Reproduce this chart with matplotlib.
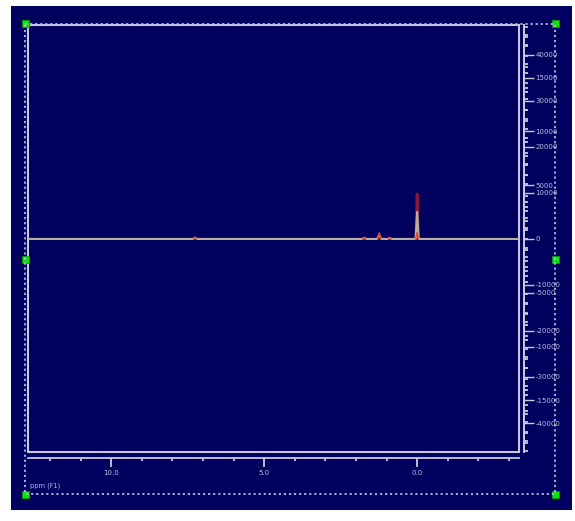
import numpy as np
import matplotlib
matplotlib.use('Agg')
import matplotlib.pyplot as plt
from matplotlib.patches import Rectangle
from matplotlib.ticker import MultipleLocator, FixedLocator

plt.rcParams['axes.unicode_minus'] = False

# spectrum data (ppm, intensity)
base_ppm = [12.72, 7.32, 7.26, 7.20, 1.80, 1.73, 1.66, 1.31, 1.24, 1.17,
            0.96, 0.90, 0.84, 0.05, 0.0, -0.05, -3.33]
base_int = [0, 0, 300, 0, 0, 250, 0, 0, 900, 0, 0, 250, 0, 0, 5900, 0, 0]

red_ppm = [0.04, 0.0, -0.04]
red_int = [0, 9800, 0]

# small coloured peaks, nan separates the pieces
orange_ppm = [7.30, 7.26, 7.22, np.nan, 1.77, 1.73, 1.69, np.nan, 1.29, 1.24, 1.19,
              np.nan, 0.94, 0.90, 0.86, np.nan, 0.04, 0.0, -0.04]
orange_int = [0, 300, 0, np.nan, 0, 250, 0, np.nan, 0, 1300, 0,
              np.nan, 0, 250, 0, np.nan, 0, 1400, 0]

x_ticks = [10.0, 5.0, 0.0]
x_labels = ['10.0', '5.0', '0.0']
y_ticks_a = [-40000, -30000, -20000, -10000, 0, 10000, 20000, 30000, 40000]
y_ticks_b = [-15000, -10000, -5000, 5000, 10000, 15000]

navy = '#00005f'
light = '#c8c8dc'
label_col = '#bcbce0'

W, H = 575, 521
fig = plt.figure(figsize=(W / 100, H / 100), dpi=100, facecolor='white')

# background / handles layer in pixel coords
bg = fig.add_axes([0, 0, 1, 1], zorder=0)
bg.set_xlim(0, W)
bg.set_ylim(H, 0)
bg.axis('off')
bg.add_patch(Rectangle((11, 6), 561, 504, facecolor=navy, edgecolor='none'))

ax = fig.add_axes([28 / W, 1 - 452 / H, 491 / W, 427 / H], zorder=1)
ax.set_facecolor(navy)
ax.set_xlim(12.72, -3.33)
ax.set_ylim(-46300, 46500)

# second overlapping intensity scale
ax2 = ax.twinx()
ax2.set_ylim(-19800, 19900)

ax.plot(red_ppm, red_int, color='#8a1838', lw=2.0, solid_capstyle='butt')
ax.plot(base_ppm, base_int, color='#b8b09c', lw=1.5)
ax.plot(orange_ppm, orange_int, color='#e0502a', lw=1.1)

# frame box
ax.add_patch(Rectangle((0, 0), 1, 1, transform=ax.transAxes, fill=False,
                       edgecolor=light, lw=1.5, clip_on=False))
for s in ['top', 'left']:
    ax.spines[s].set_visible(False)
for s in ['bottom', 'right']:
    ax.spines[s].set_color(light)
    ax.spines[s].set_linewidth(1.3)
ax.spines['bottom'].set_position(('outward', 4.3))
ax.spines['right'].set_position(('outward', 3.3))

ax.xaxis.set_major_locator(FixedLocator(x_ticks))
ax.set_xticklabels(x_labels)
ax.xaxis.set_minor_locator(MultipleLocator(1.0))
ax.tick_params(axis='x', which='major', length=6.5, width=1.3, color=light,
               labelcolor=label_col, labelsize=5, pad=2)
ax.tick_params(axis='x', which='minor', length=2.2, width=1.3, color=light)

ax.yaxis.tick_right()
ax.yaxis.set_major_locator(FixedLocator(y_ticks_a))
ax.set_yticklabels([str(v) for v in y_ticks_a])
ax.yaxis.set_minor_locator(MultipleLocator(2000))
ax.tick_params(axis='y', which='major', left=False, labelleft=False,
               right=True, labelright=True, length=7, width=1.0, color=light,
               labelcolor=label_col, labelsize=5, pad=1.5)
ax.tick_params(axis='y', which='minor', left=False, right=True,
               length=2.8, width=1.3, color=light)

for s in ['top', 'left', 'bottom']:
    ax2.spines[s].set_visible(False)
ax2.spines['right'].set_color(light)
ax2.spines['right'].set_linewidth(1.3)
ax2.spines['right'].set_position(('outward', 3.3))
ax2.yaxis.set_major_locator(FixedLocator(y_ticks_b))
ax2.set_yticklabels([str(v) for v in y_ticks_b])
ax2.yaxis.set_minor_locator(MultipleLocator(1000))
ax2.tick_params(axis='y', which='major', length=7, width=1.0, color=light,
                labelcolor=label_col, labelsize=5, pad=1.5)
ax2.tick_params(axis='y', which='minor', length=2.8, width=1.3, color=light)

# selection rectangle with handles on top
ov = fig.add_axes([0, 0, 1, 1], zorder=5)
ov.set_xlim(0, W)
ov.set_ylim(H, 0)
ov.axis('off')
ov.patch.set_alpha(0)
ov.plot([25, 555, 555, 25, 25], [23.5, 23.5, 494, 494, 23.5], color='#b8b8e0',
        lw=1.3, linestyle=(0, (1.2, 1.6)))
for hx, hy in [(25, 23.5), (555, 23.5), (25, 259), (555, 259), (25, 494), (555, 494)]:
    ov.add_patch(Rectangle((hx - 3.5, hy - 3.5), 7, 7, facecolor='#10e010',
                           edgecolor='#00a000', lw=0.6))
ov.text(30, 486, 'ppm (F1)', color=label_col, fontsize=4.8, va='center', ha='left')

fig.savefig('out.png', dpi=100, facecolor='white')
